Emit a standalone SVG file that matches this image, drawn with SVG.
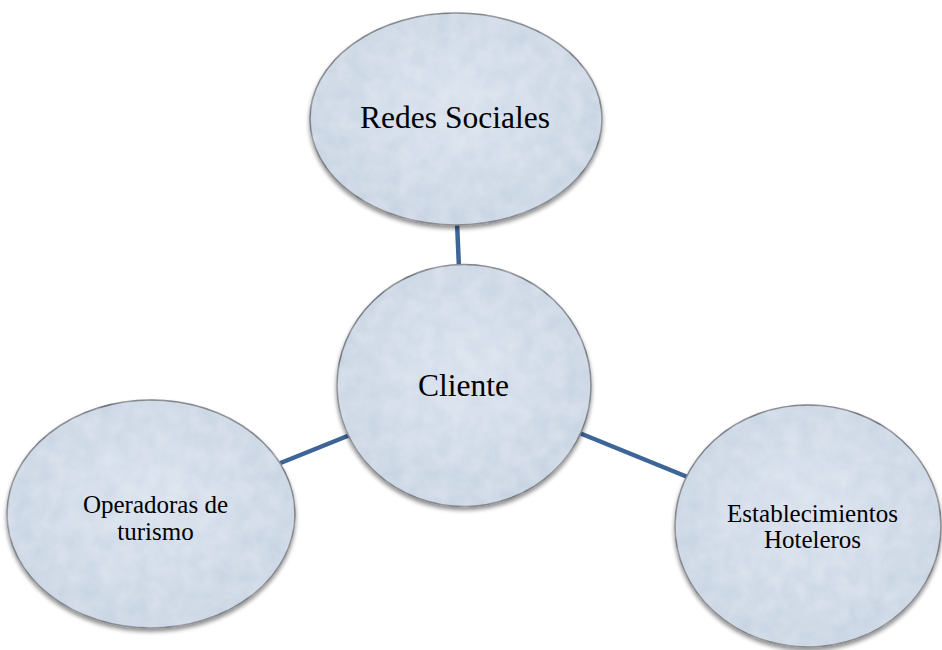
<svg xmlns="http://www.w3.org/2000/svg" width="942" height="650" viewBox="0 0 942 650">
  <defs>
    <radialGradient id="fillGrad" cx="50%" cy="45%" r="60%">
      <stop offset="0%" stop-color="#d6e0ec"/>
      <stop offset="100%" stop-color="#c4d1e1"/>
    </radialGradient>
    <filter id="tex" x="-5%" y="-5%" width="110%" height="115%">
      <feTurbulence type="fractalNoise" baseFrequency="0.06" numOctaves="3" seed="4" result="noise"/>
      <feColorMatrix in="noise" type="matrix" values="0 0 0 0 1  0 0 0 0 1  0 0 0 0 1  0 0 0 0.35 -0.05" result="wn"/>
      <feComposite in="wn" in2="SourceGraphic" operator="in" result="wnc"/>
      <feGaussianBlur in="SourceAlpha" stdDeviation="2" result="blur"/>
      <feOffset in="blur" dx="0" dy="3" result="off"/>
      <feComponentTransfer in="off" result="shadow">
        <feFuncA type="linear" slope="0.45"/>
      </feComponentTransfer>
      <feMerge>
        <feMergeNode in="shadow"/>
        <feMergeNode in="SourceGraphic"/>
        <feMergeNode in="wnc"/>
      </feMerge>
    </filter>
  </defs>
  <style>
    .node { fill: url(#fillGrad); stroke: #6b6f76; stroke-width: 1.5; filter: url(#tex); }
    .conn { stroke: #3d6597; stroke-width: 4.5; stroke-linecap: butt; fill: none; }
    .lbl { font-family: "Liberation Serif", "Times New Roman", serif; fill: #000; text-anchor: middle; }
    .big { font-size: 31.5px; }
    .small { font-size: 25px; }
  </style>
  <rect width="942" height="650" fill="#ffffff"/>
  <g id="connectors">
    <line class="conn" x1="457" y1="222" x2="459" y2="268"/>
    <line class="conn" x1="278" y1="464" x2="350" y2="435"/>
    <line class="conn" x1="577" y1="432" x2="690" y2="478"/>
  </g>
  <g id="node-redes">
    <ellipse class="node" cx="456" cy="119" rx="146" ry="106"/>
    <text class="lbl big" x="455" y="128">Redes Sociales</text>
  </g>
  <g id="node-cliente">
    <ellipse class="node" cx="464" cy="385.5" rx="127" ry="121"/>
    <text class="lbl big" x="463.5" y="396">Cliente</text>
  </g>
  <g id="node-operadoras">
    <ellipse class="node" cx="151" cy="514" rx="144" ry="114"/>
    <text class="lbl small" x="155.5" y="513">Operadoras de</text>
    <text class="lbl small" x="155.5" y="539.5">turismo</text>
  </g>
  <g id="node-establecimientos">
    <ellipse class="node" cx="808" cy="526" rx="133" ry="121"/>
    <text class="lbl small" x="812.5" y="521.5">Establecimientos</text>
    <text class="lbl small" x="812.5" y="547.5">Hoteleros</text>
  </g>
</svg>
